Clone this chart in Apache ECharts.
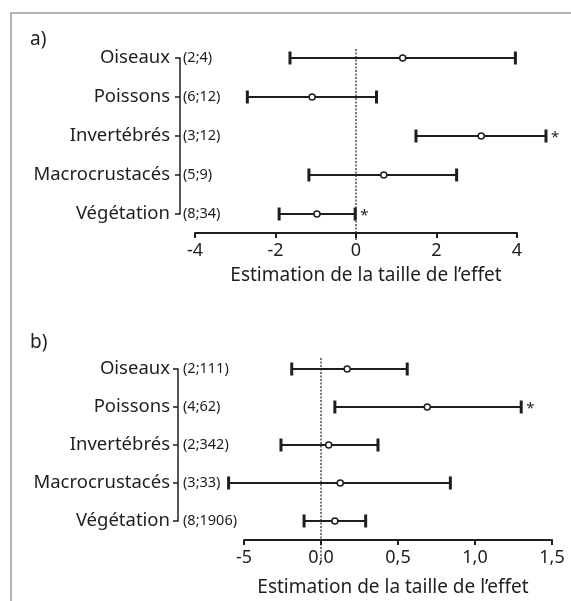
<!DOCTYPE html>
<html>
<head>
<meta charset="utf-8">
<script src="https://cdn.jsdelivr.net/npm/echarts@6/dist/echarts.min.js"></script>
<style>
  html, body { margin: 0; padding: 0; background: #fff; overflow: hidden; }
  #frame { position: absolute; left: 10px; top: 12px; width: 620px; height: 640px;
           border: 2px solid #b4b4b4; }
  #chart { position: absolute; left: 0; top: 0; width: 571px; height: 601px; }
</style>
</head>
<body>
<div id="frame"></div>
<div id="chart"></div>
<script>
  const categories = ['Oiseaux', 'Poissons', 'Invertébrés', 'Macrocrustacés', 'Végétation'];

  // a) effect sizes
  const sizesA = ['(2;4)', '(6;12)', '(3;12)', '(5;9)', '(8;34)'];
  const meanA = [1.16, -1.09, 3.11, 0.69, -0.97];
  const lowA = [-1.64, -2.70, 1.49, -1.17, -1.91];
  const highA = [3.96, 0.51, 4.72, 2.50, -0.02];
  const sigA = [false, false, true, false, true];
  const ticksA = ['-4', '-2', '0', '2', '4'];

  // b) effect sizes
  const sizesB = ['(2;111)', '(4;62)', '(2;342)', '(3;33)', '(8;1906)'];
  const meanB = [0.17, 0.69, 0.05, 0.125, 0.09];
  const lowB = [-0.19, 0.09, -0.26, -0.60, -0.11];
  const highB = [0.56, 1.30, 0.37, 0.84, 0.29];
  const sigB = [false, true, false, false, false];
  const ticksB = ['-5', '0,0', '0,5', '1,0', '1,5'];

  const axisTitle = 'Estimation de la taille de l\u2019effet';
  const font = '"Noto Sans", sans-serif';
  const ink = '#1e1e1e';

  const chart = echarts.init(document.getElementById('chart'), null, { renderer: 'canvas' });

  function errorBarItem(params, api) {
    const cat = api.value(0);
    const start = api.coord([api.value(1), cat]);
    const end = api.coord([api.value(2), cat]);
    const children = [
      { type: 'line', shape: { x1: start[0], y1: start[1], x2: end[0], y2: end[1] },
        style: { stroke: ink, lineWidth: 2 } },
      { type: 'line', shape: { x1: start[0], y1: start[1] - 6.5, x2: start[0], y2: start[1] + 6.5 },
        style: { stroke: ink, lineWidth: 3 } },
      { type: 'line', shape: { x1: end[0], y1: end[1] - 6.5, x2: end[0], y2: end[1] + 6.5 },
        style: { stroke: ink, lineWidth: 3 } },
    ];
    if (api.value(3)) {
      children.push({ type: 'text', x: end[0] + 5, y: end[1] + 2,
        style: { text: '*', font: '15px ' + font, fill: ink, verticalAlign: 'middle' } });
    }
    return { type: 'group', children };
  }

  function zeroLine(above, below) {
    return function (params, api) {
      const top = api.coord([0, 0]);
      const bottom = api.coord([0, categories.length - 1]);
      return { type: 'line',
        shape: { x1: top[0], y1: top[1] - above, x2: bottom[0], y2: bottom[1] + below },
        style: { stroke: ink, lineWidth: 1.2, lineDash: [2, 1.5] } };
    };
  }

  function barData(low, high, sig) {
    return categories.map((c, i) => [i, low[i], high[i], sig[i] ? 1 : 0]);
  }

  function valueAxis(gridIndex, min, max, interval, labels, labelGap, nameGap, namePad) {
    return {
      type: 'value', gridIndex, min, max, interval, offset: 19,
      splitLine: { show: false },
      axisLine: { show: true, onZero: false, lineStyle: { color: ink, width: 2 } },
      axisTick: { show: true, length: 5, lineStyle: { color: ink, width: 2 } },
      axisLabel: { color: ink, fontFamily: font, fontSize: 18, margin: labelGap,
        formatter: (v) => labels[Math.round((v - min) / interval)] },
      name: axisTitle, nameLocation: 'middle', nameGap,
      nameTextStyle: { color: ink, fontFamily: font, fontSize: 19, padding: namePad },
    };
  }

  function catAxis(gridIndex, data, offset, margin) {
    return {
      type: 'category', gridIndex, data, inverse: true, boundaryGap: false, offset,
      position: 'left',
      axisLine: { show: true, onZero: false, lineStyle: { color: ink, width: 1.5 } },
      axisTick: { show: true, length: 5, alignWithLabel: true, lineStyle: { color: ink, width: 1.5 } },
      axisLabel: { color: ink, fontFamily: font, fontSize: 18.5, margin, interval: 0, padding: [4, 0, 0, 0] },
      splitLine: { show: false },
    };
  }

  function sizeAxis(gridIndex, data, offset, margin) {
    return {
      type: 'category', gridIndex, data, inverse: true, boundaryGap: false, offset,
      position: 'left',
      axisLine: { show: false, onZero: false }, axisTick: { show: false }, splitLine: { show: false },
      axisLabel: { inside: true, color: ink, fontFamily: font, fontSize: 14.5, margin, interval: 0, padding: [4, 0, 0, 0] },
    };
  }

  chart.setOption({
    animation: false,
    backgroundColor: 'transparent',
    title: [
      { text: 'a)', left: 25, top: 25, textStyle: { color: ink, fontFamily: font, fontSize: 19, fontWeight: 'normal' } },
      { text: 'b)', left: 25, top: 328, textStyle: { color: ink, fontFamily: font, fontSize: 19, fontWeight: 'normal' } },
    ],
    grid: [
      { left: 195, top: 58, width: 322, height: 156 },
      { left: 244, top: 369, width: 308, height: 152 },
    ],
    xAxis: [
      valueAxis(0, -4, 4, 2, ticksA, 9, 33, [0, 0, 0, 20]),
      valueAxis(1, -0.5, 1.5, 0.5, ticksB, 9, 38, [0, 10, 0, 0]),
    ],
    yAxis: [
      catAxis(0, categories, 15, 10),
      sizeAxis(0, sizesA, 15, 3),
      catAxis(1, categories, 66, 8),
      sizeAxis(1, sizesB, 66, 5),
    ],
    series: [
      { type: 'custom', xAxisIndex: 0, yAxisIndex: 0, data: [[0]], clip: false, z: 1,
        renderItem: zeroLine(9, 26) },
      { type: 'custom', xAxisIndex: 0, yAxisIndex: 0, clip: false, z: 2,
        data: barData(lowA, highA, sigA), renderItem: errorBarItem },
      { type: 'scatter', xAxisIndex: 0, yAxisIndex: 0, z: 3, symbol: 'circle', symbolSize: 6,
        itemStyle: { color: '#fff', borderColor: ink, borderWidth: 1.5, opacity: 1 },
        data: meanA.map((m, i) => [m, i]) },

      { type: 'custom', xAxisIndex: 1, yAxisIndex: 2, data: [[0]], clip: false, z: 1,
        renderItem: zeroLine(11, 41) },
      { type: 'custom', xAxisIndex: 1, yAxisIndex: 2, clip: false, z: 2,
        data: barData(lowB, highB, sigB), renderItem: errorBarItem },
      { type: 'scatter', xAxisIndex: 1, yAxisIndex: 2, z: 3, symbol: 'circle', symbolSize: 6,
        itemStyle: { color: '#fff', borderColor: ink, borderWidth: 1.5, opacity: 1 },
        data: meanB.map((m, i) => [m, i]) },
    ],
  });
</script>
</body>
</html>
